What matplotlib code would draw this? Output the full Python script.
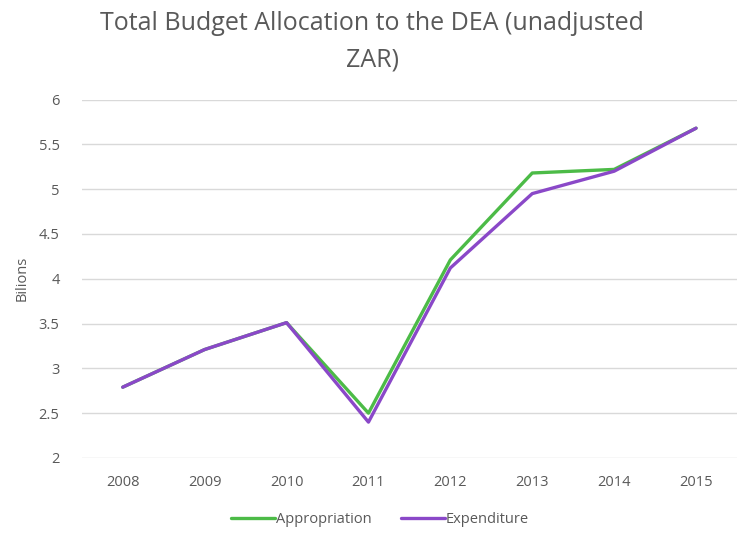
import matplotlib.pyplot as plt
import numpy as np

years = ['2008', '2009', '2010', '2011', '2012', '2013', '2014', '2015']
appropriation = [2.79, 3.21, 3.51, 2.50, 4.21, 5.18, 5.22, 5.68]
expenditure = [2.79, 3.21, 3.51, 2.40, 4.12, 4.95, 5.20, 5.68]

plt.rcParams['font.family'] = ['Open Sans', 'DejaVu Sans']
txt = '#595959'

fig = plt.figure(figsize=(7.37, 5.35), dpi=100)
ax = fig.add_axes([0.111, 0.144, 0.889, 0.67])

x = np.arange(len(years))
ax.plot(x, appropriation, color='#4cbb47', lw=2.4, label='Appropriation', solid_capstyle='round')
ax.plot(x, expenditure, color='#8a48c8', lw=2.4, label='Expenditure', solid_capstyle='round')

ax.set_xlim(-0.5, len(years) - 0.5)
ax.set_ylim(2, 6)
ax.set_yticks(np.arange(2, 6.01, 0.5))
ax.set_yticklabels(['2', '2.5', '3', '3.5', '4', '4.5', '5', '5.5', '6'])
ax.set_xticks(x)
ax.set_xticklabels(years)
ax.grid(axis='y', color='#d9d9d9', lw=1)
ax.set_axisbelow(True)
for s in ax.spines.values():
    s.set_visible(False)
ax.tick_params(length=0, colors=txt, labelsize=10.5, pad=12)
ax.tick_params(axis='y', pad=16)
ax.set_ylabel('Bilions', color=txt, fontsize=10.5)
ax.yaxis.set_label_coords(-0.08, 0.5)

fig.suptitle('Total Budget Allocation to the DEA (unadjusted\nZAR)', color=txt,
             fontsize=18, x=0.505, y=0.98, linespacing=1.6)

ax.legend(loc='upper center', bbox_to_anchor=(0.455, -0.115), ncol=2, frameon=False,
          fontsize=10.5, labelcolor=txt, handlelength=3.0, handletextpad=0.1, columnspacing=2.0)

fig.savefig('out.png')
